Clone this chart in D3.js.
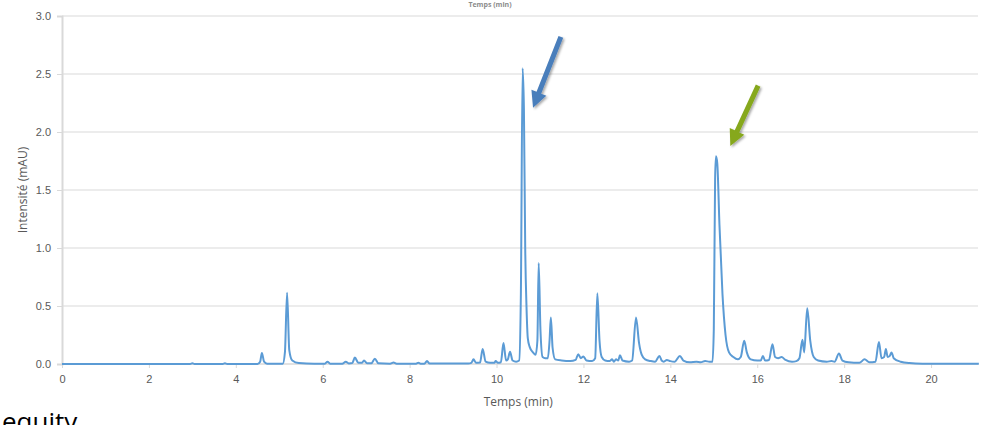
<!DOCTYPE html>
<html>
<head>
<meta charset="utf-8">
<script src="https://cdn.jsdelivr.net/npm/d3@7"></script>
<style>
  body { margin: 0; background: #fff; }
  svg { display: block; font-family: "Open Sans", "Liberation Sans", sans-serif; }
</style>
</head>
<body>
<script>
// chromatogram (time in min, intensity in mAU)
const times = [0, 2.95, 3.0, 3.05, 3.7, 3.75, 3.8,
  4.5, 4.56, 4.6, 4.65, 4.72,
  5.08, 5.13, 5.18, 5.23, 5.3, 5.45, 5.8,
  6.05, 6.11, 6.17, 6.45, 6.53, 6.6, 6.68, 6.74, 6.82, 6.9, 6.95, 7.02, 7.12, 7.2, 7.28,
  7.55, 7.63, 7.7, 8.15, 8.2, 8.25, 8.34, 8.4, 8.46,
  9.35, 9.42, 9.47, 9.53, 9.62, 9.68, 9.75, 9.85, 9.95, 9.98, 10.03, 10.1, 10.16, 10.22,
  10.26, 10.31, 10.37, 10.45, 10.52, 10.56, 10.6, 10.63, 10.66, 10.69, 10.72, 10.76,
  10.84, 10.9, 10.94, 10.97, 11.01, 11.06, 11.12, 11.18, 11.22, 11.25, 11.29, 11.35,
  11.5, 11.7, 11.82, 11.88, 11.94, 12.0, 12.07, 12.2, 12.27, 12.32, 12.37, 12.42,
  12.5, 12.6, 12.66, 12.7, 12.75, 12.8, 12.84, 12.9, 13.05, 13.12, 13.21, 13.28, 13.34,
  13.42, 13.55, 13.65, 13.75, 13.8, 13.85, 13.92, 14.0, 14.1, 14.22, 14.3, 14.45,
  14.6, 14.7, 14.8, 14.9, 14.97, 15.0, 15.03, 15.05, 15.08, 15.13, 15.2, 15.27, 15.35,
  15.45, 15.55, 15.62, 15.7, 15.76, 15.85, 16.0, 16.08, 16.13, 16.18, 16.27, 16.35,
  16.41, 16.48, 16.56, 16.65, 16.8, 16.9, 16.97, 17.04, 17.08, 17.15, 17.22, 17.3,
  17.4, 17.6, 17.71, 17.78, 17.88, 17.96, 18.1, 18.35, 18.47, 18.58, 18.72, 18.8,
  18.86, 18.92, 18.96, 19.0, 19.05, 19.09, 19.14, 19.3, 19.5, 19.8, 20.5, 21.1];

const intensity = [0, 0, 0.006, 0, 0, 0.006, 0,
  0, 0.02, 0.095, 0.02, 0.003,
  0.003, 0.1, 0.615, 0.12, 0.03, 0.008, 0.003,
  0.003, 0.02, 0.003, 0.003, 0.02, 0.005, 0.008, 0.055, 0.01, 0.01, 0.03, 0.006, 0.006, 0.045, 0.006,
  0.003, 0.012, 0.003, 0.003, 0.01, 0.003, 0.003, 0.025, 0.004,
  0.005, 0.01, 0.04, 0.01, 0.012, 0.13, 0.02, 0.01, 0.01, 0.025, 0.01, 0.015, 0.18, 0.03,
  0.04, 0.105, 0.03, 0.02, 0.03, 0.6, 2.55, 2.2, 1.0, 0.49, 0.22, 0.15,
  0.1, 0.08, 0.2, 0.87, 0.3, 0.06, 0.05, 0.05, 0.2, 0.4, 0.14, 0.04,
  0.03, 0.025, 0.035, 0.085, 0.05, 0.065, 0.03, 0.025, 0.05, 0.61, 0.2, 0.06,
  0.03, 0.025, 0.04, 0.02, 0.04, 0.03, 0.075, 0.03, 0.02, 0.03, 0.4, 0.18, 0.08,
  0.04, 0.025, 0.02, 0.07, 0.03, 0.02, 0.035, 0.025, 0.02, 0.07, 0.03, 0.015,
  0.02, 0.015, 0.025, 0.02, 0.02, 0.3, 1.6, 1.79, 1.73, 1.2, 0.6, 0.25, 0.1,
  0.06, 0.04, 0.06, 0.2, 0.1, 0.04, 0.03, 0.03, 0.07, 0.03, 0.035, 0.17,
  0.06, 0.05, 0.06, 0.035, 0.02, 0.025, 0.05, 0.21, 0.1, 0.48, 0.2, 0.06,
  0.03, 0.02, 0.025, 0.02, 0.09, 0.03, 0.015, 0.01, 0.04, 0.015, 0.02, 0.19,
  0.05, 0.06, 0.13, 0.06, 0.07, 0.1, 0.05, 0.02, 0.008, 0.003, 0.002, 0.002];

const xTicks = [0, 2, 4, 6, 8, 10, 12, 14, 16, 18, 20];
const yTicks = [0, 0.5, 1.0, 1.5, 2.0, 2.5, 3.0];

// arrows pointing at the two main peaks: [tailTime, tailValue, headTime, headValue]
const arrowNames = ['blue', 'green'];
const arrowCoords = [[11.48, 2.82, 10.84, 2.21], [16.02, 2.40, 15.38, 1.88]];
const arrowColors = ['#4a7ebb', '#86a81e'];

const width = 992, height = 425;
const margin = { top: 16, right: 14, bottom: 61, left: 62 };
const plotW = width - margin.left - margin.right;
const plotH = height - margin.top - margin.bottom;

const svg = d3.select('body').append('svg')
  .attr('width', width)
  .attr('height', height);

const xScale = d3.scaleLinear().domain([0, 21.08]).range([0, plotW]);
const yScale = d3.scaleLinear().domain([0, 3]).range([plotH, 0]);

const graph = svg.append('g')
  .attr('transform', `translate(${margin.left},${margin.top})`);

// gridlines
graph.append('g')
  .selectAll('line')
  .data(yTicks.filter(d => d > 0))
  .enter().append('line')
  .attr('x1', 0).attr('x2', plotW)
  .attr('y1', d => yScale(d)).attr('y2', d => yScale(d))
  .attr('stroke', '#d9d9d9').attr('stroke-width', 1);

// y axis
const yAxis = graph.append('g')
  .call(d3.axisLeft(yScale).tickValues(yTicks).tickFormat(d3.format('.1f')).tickSize(5).tickPadding(6));
yAxis.select('.domain').attr('stroke', '#d9d9d9').attr('stroke-width', 2);
yAxis.selectAll('.tick line').attr('stroke', '#d9d9d9');
yAxis.selectAll('text').attr('fill', '#595959').style('font-size', '11px');

// x axis
const xAxis = graph.append('g')
  .attr('transform', `translate(0,${plotH})`)
  .call(d3.axisBottom(xScale).tickValues(xTicks).tickSize(4).tickPadding(7));
xAxis.select('.domain').attr('stroke', '#d9d9d9').attr('stroke-width', 1.5).attr('d', `M0,0H${plotW}`);
xAxis.selectAll('.tick line').attr('stroke', '#d9d9d9');
xAxis.selectAll('text').attr('fill', '#595959').style('font-size', '11px');

// trace
const points = times.map((t, i) => [t, intensity[i]]);
graph.append('path')
  .datum(points)
  .attr('fill', 'none')
  .attr('stroke', '#5b9bd5')
  .attr('stroke-width', 2)
  .attr('stroke-linejoin', 'round')
  .attr('d', d3.line()
    .x(d => xScale(d[0]))
    .y(d => yScale(d[1]))
    .curve(d3.curveMonotoneX));

// arrows
const defs = svg.append('defs');
defs.append('filter').attr('id', 'shadow')
  .append('feDropShadow')
  .attr('dx', 1.5).attr('dy', 1.5).attr('stdDeviation', 1.2)
  .attr('flood-color', '#000').attr('flood-opacity', 0.35);

arrowNames.forEach((name, i) => {
  const [t0, v0, t1, v1] = arrowCoords[i];
  const x0 = xScale(t0), y0 = yScale(v0), x1 = xScale(t1), y1 = yScale(v1);
  const len = Math.hypot(x1 - x0, y1 - y0);
  const ux = (x1 - x0) / len, uy = (y1 - y0) / len;
  const px = -uy, py = ux;
  const shaft = 2.5, head = 8, headLen = 16;
  const bx = x1 - ux * headLen, by = y1 - uy * headLen;
  const pts = [
    [x0 + px * shaft, y0 + py * shaft],
    [bx + px * shaft, by + py * shaft],
    [bx + px * head, by + py * head],
    [x1, y1],
    [bx - px * head, by - py * head],
    [bx - px * shaft, by - py * shaft],
    [x0 - px * shaft, y0 - py * shaft]
  ];
  graph.append('polygon')
    .attr('class', `arrow-${name}`)
    .attr('points', pts.map(p => p.join(',')).join(' '))
    .attr('fill', arrowColors[i])
    .attr('filter', 'url(#shadow)');
});

// titles
svg.append('text')
  .attr('x', margin.left + xScale(10.5))
  .attr('y', 406)
  .attr('text-anchor', 'middle')
  .attr('fill', '#595959')
  .style('font-size', '12px')
  .text('Temps (min)');

svg.append('text')
  .attr('x', 490)
  .attr('y', 7)
  .attr('text-anchor', 'middle')
  .attr('fill', '#8c8c8c')
  .style('font-size', '7px')
  .style('font-weight', 'bold')
  .text('Temps (min)');

svg.append('text')
  .attr('transform', `translate(27,${margin.top + plotH / 2}) rotate(-90)`)
  .attr('text-anchor', 'middle')
  .attr('fill', '#595959')
  .style('font-size', '12px')
  .text('Intensité (mAU)');

// text below the chart, cut by the bottom edge as in the reference
svg.append('text')
  .attr('x', 2)
  .attr('y', 431)
  .attr('fill', '#000')
  .style('font-size', '26px')
  .text('equity');
</script>
</body>
</html>
